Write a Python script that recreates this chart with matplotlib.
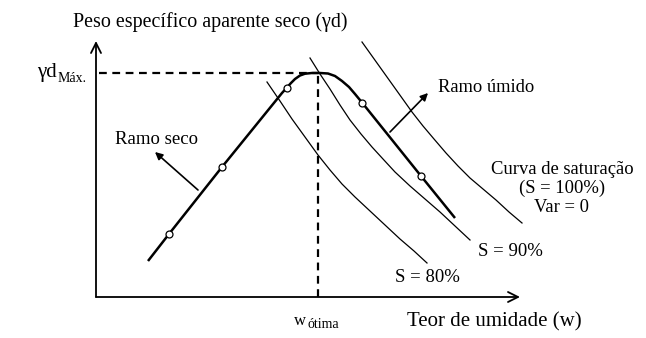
import numpy as np
import matplotlib.pyplot as plt

plt.rcParams['font.family'] = ['Liberation Serif', 'DejaVu Serif']

# compaction curve (w, gamma_d) in schematic units
curve_w = [52, 73, 126, 186, 191, 195, 199, 204, 209, 216, 224, 232, 239, 246, 253, 259, 266, 325, 359]
curve_gd = [36, 63, 130, 204, 209.5, 214, 218, 221.5, 223.3, 224, 224, 223.5, 221, 216, 210, 203, 194.5, 121, 79]
# test points on the curve
pts_w = [73, 126, 191, 266, 325]
pts_gd = [63, 130, 209.5, 194.5, 121]

# saturation curves
s80_w = [171, 184, 196, 209, 222, 234, 246, 259, 274, 289, 304, 318, 331]
s80_gd = [215, 196, 178, 160, 142, 127, 113, 100, 86, 72, 58, 46, 34]
s90_w = [214, 224, 234, 244, 254, 265, 276, 287, 299, 314, 329, 344, 359, 374]
s90_gd = [239, 223, 208, 192, 177, 163, 150, 138, 125, 111, 98, 85, 71, 57]
s100_w = [266, 276, 286, 296, 306, 316, 327, 338, 350, 362, 374, 387, 400, 413, 426]
s100_gd = [255, 241, 227, 213, 199, 185, 171, 158, 144, 131, 119, 108, 97, 85, 74]

w_opt = 222
gd_max = 224

fig = plt.figure(figsize=(6.46, 3.38), dpi=100)
ax = fig.add_axes([0, 0, 1, 1])
ax.set_xlim(-96, 550)
ax.set_ylim(-41, 297)
ax.axis('off')

# axes with open arrow heads
ax.annotate('', xy=(0, 256), xytext=(0, 0),
            arrowprops=dict(arrowstyle='->', lw=1.3, color='black',
                            mutation_scale=18, shrinkA=0, shrinkB=0))
ax.annotate('', xy=(424, 0), xytext=(0, 0),
            arrowprops=dict(arrowstyle='->', lw=1.3, color='black',
                            mutation_scale=18, shrinkA=0, shrinkB=0))

# dashed guides for the optimum
ax.plot([3, w_opt], [gd_max, gd_max], color='black', lw=1.6, ls=(0, (3.5, 2.5)))
ax.plot([w_opt, w_opt], [0, gd_max], color='black', lw=1.6, ls=(0, (3.5, 2.5)))

# saturation lines
for sw, sg in [(s80_w, s80_gd), (s90_w, s90_gd), (s100_w, s100_gd)]:
    ax.plot(sw, sg, color='black', lw=0.9)

# compaction curve
ax.plot(curve_w, curve_gd, color='black', lw=1.8, solid_capstyle='butt')
ax.plot(pts_w, pts_gd, 'o', ms=5, mfc='white', mec='black', mew=0.9)

# branch arrows
ax.annotate('', xy=(59, 145), xytext=(102, 107),
            arrowprops=dict(arrowstyle='-|>', lw=1.2, color='black',
                            mutation_scale=11, shrinkA=0, shrinkB=0))
ax.annotate('', xy=(332, 204), xytext=(294, 165),
            arrowprops=dict(arrowstyle='-|>', lw=1.2, color='black',
                            mutation_scale=11, shrinkA=0, shrinkB=0))

# texts
ax.text(-23, 275, 'Peso específico aparente seco (γd)', fontsize=14.4, va='center', ha='left')
ax.text(-39, 224, 'γd', fontsize=15, va='center', ha='right')
ax.text(-38, 219, 'Máx.', fontsize=10, va='center', ha='left')
ax.text(60.5, 157, 'Ramo seco', fontsize=13.5, va='center', ha='center')
ax.text(342, 209, 'Ramo úmido', fontsize=13.3, va='center', ha='left')
ax.text(466, 127, 'Curva de saturação', fontsize=13.4, va='center', ha='center')
ax.text(466, 109, '(S = 100%)', fontsize=13.4, va='center', ha='center')
ax.text(466, 90, 'Var = 0', fontsize=13.4, va='center', ha='center')
ax.text(382, 45, 'S = 90%', fontsize=13.5, va='center', ha='left')
ax.text(299, 20, 'S = 80%', fontsize=13.5, va='center', ha='left')
ax.text(198, -24, 'w', fontsize=12, va='center', ha='left')
ax.text(212, -28, 'ótima', fontsize=10, va='center', ha='left')
ax.text(311, -25, 'Teor de umidade (w)', fontsize=15, va='center', ha='left')

fig.savefig('out.png', dpi=100)
